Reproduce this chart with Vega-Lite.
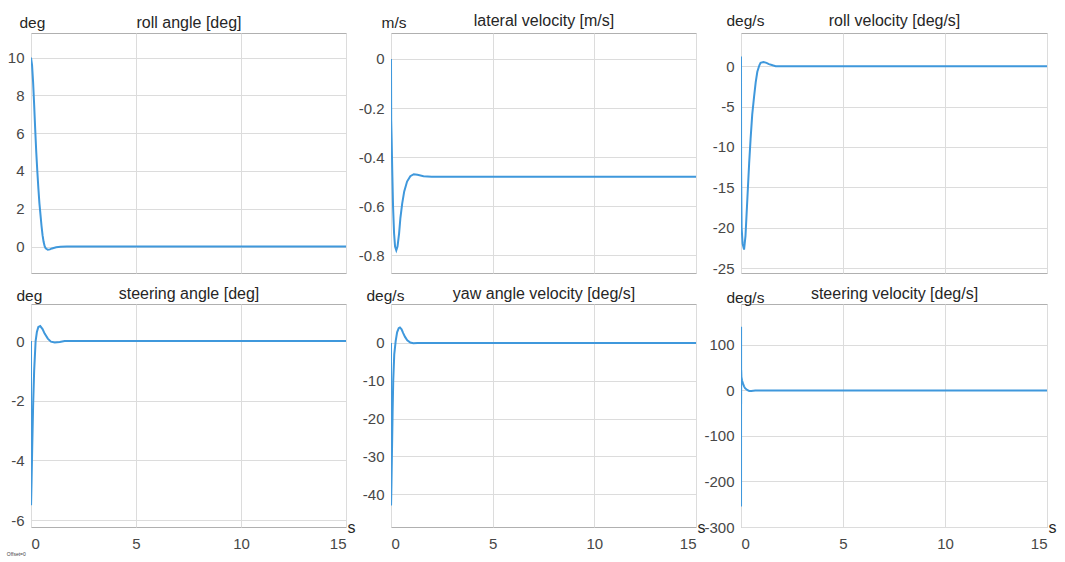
{
  "$schema": "https://vega.github.io/schema/vega-lite/v6.json",
  "background": "white",
  "padding": {"left": 6, "top": 11, "right": 5, "bottom": 5},
  "columns": 3,
  "bounds": "flush",
  "spacing": {"row": 31, "column": 45},
  "title": {"text": "Offset=0", "orient": "bottom", "anchor": "start", "fontSize": 5, "fontWeight": "normal", "color": "#444444", "offset": 0, "font": "Liberation Sans"},
  "config": {
    "view": {"stroke": "#b0b0b0", "strokeWidth": 1},
    "axis": {
      "labelFont": "Liberation Sans", "labelFontSize": 15, "labelColor": "#474747", "labelPadding": 7,
      "labelExpr": "replace(datum.label, '\u2212', '-')",
      "gridColor": "#dcdcdc", "gridWidth": 1,
      "titleFont": "Liberation Sans", "titleFontSize": 16, "titleFontWeight": "normal", "titleColor": "#262626",
      "tickSize": 0, "ticks": false, "domain": false
    }
  },
  "datasets": {
    "d": [
      {"p": "roll", "t": 0, "v": 10}, {"p": "roll", "t": 0.05, "v": 9.6}, {"p": "roll", "t": 0.1, "v": 8.7}, {"p": "roll", "t": 0.15, "v": 7.5}, {"p": "roll", "t": 0.2, "v": 6.2}, {"p": "roll", "t": 0.25, "v": 5}, {"p": "roll", "t": 0.3, "v": 4}, {"p": "roll", "t": 0.35, "v": 3.1}, {"p": "roll", "t": 0.4, "v": 2.3}, {"p": "roll", "t": 0.45, "v": 1.7}, {"p": "roll", "t": 0.5, "v": 1.1}, {"p": "roll", "t": 0.55, "v": 0.6}, {"p": "roll", "t": 0.6, "v": 0.25}, {"p": "roll", "t": 0.65, "v": 0.02}, {"p": "roll", "t": 0.7, "v": -0.1}, {"p": "roll", "t": 0.8, "v": -0.17}, {"p": "roll", "t": 0.9, "v": -0.15}, {"p": "roll", "t": 1.0, "v": -0.1}, {"p": "roll", "t": 1.2, "v": -0.04}, {"p": "roll", "t": 1.4, "v": -0.01}, {"p": "roll", "t": 1.7, "v": 0}, {"p": "roll", "t": 15, "v": 0},

      {"p": "lat", "t": 0, "v": 0}, {"p": "lat", "t": 0.01, "v": -0.25}, {"p": "lat", "t": 0.03, "v": -0.32}, {"p": "lat", "t": 0.06, "v": -0.45}, {"p": "lat", "t": 0.1, "v": -0.6}, {"p": "lat", "t": 0.15, "v": -0.71}, {"p": "lat", "t": 0.2, "v": -0.765}, {"p": "lat", "t": 0.26, "v": -0.78}, {"p": "lat", "t": 0.32, "v": -0.765}, {"p": "lat", "t": 0.4, "v": -0.71}, {"p": "lat", "t": 0.46, "v": -0.65}, {"p": "lat", "t": 0.55, "v": -0.59}, {"p": "lat", "t": 0.65, "v": -0.54}, {"p": "lat", "t": 0.79, "v": -0.5}, {"p": "lat", "t": 0.95, "v": -0.478}, {"p": "lat", "t": 1.12, "v": -0.47}, {"p": "lat", "t": 1.3, "v": -0.472}, {"p": "lat", "t": 1.6, "v": -0.478}, {"p": "lat", "t": 2, "v": -0.48}, {"p": "lat", "t": 15, "v": -0.48},

      {"p": "rollv", "t": 0, "v": 1.2}, {"p": "rollv", "t": 0.005, "v": -12.5}, {"p": "rollv", "t": 0.03, "v": -20}, {"p": "rollv", "t": 0.08, "v": -22}, {"p": "rollv", "t": 0.15, "v": -22.7}, {"p": "rollv", "t": 0.22, "v": -21}, {"p": "rollv", "t": 0.31, "v": -16.5}, {"p": "rollv", "t": 0.4, "v": -12}, {"p": "rollv", "t": 0.47, "v": -9}, {"p": "rollv", "t": 0.55, "v": -6}, {"p": "rollv", "t": 0.64, "v": -3.8}, {"p": "rollv", "t": 0.72, "v": -2}, {"p": "rollv", "t": 0.8, "v": -0.7}, {"p": "rollv", "t": 0.9, "v": 0.1}, {"p": "rollv", "t": 0.96, "v": 0.4}, {"p": "rollv", "t": 1.1, "v": 0.5}, {"p": "rollv", "t": 1.25, "v": 0.4}, {"p": "rollv", "t": 1.37, "v": 0.25}, {"p": "rollv", "t": 1.55, "v": 0.1}, {"p": "rollv", "t": 1.7, "v": 0}, {"p": "rollv", "t": 15, "v": 0},

      {"p": "steer", "t": 0, "v": 0}, {"p": "steer", "t": 0.003, "v": -5.5}, {"p": "steer", "t": 0.03, "v": -4.6}, {"p": "steer", "t": 0.06, "v": -3.5}, {"p": "steer", "t": 0.1, "v": -2.2}, {"p": "steer", "t": 0.15, "v": -1.0}, {"p": "steer", "t": 0.22, "v": 0}, {"p": "steer", "t": 0.28, "v": 0.3}, {"p": "steer", "t": 0.35, "v": 0.47}, {"p": "steer", "t": 0.44, "v": 0.5}, {"p": "steer", "t": 0.55, "v": 0.4}, {"p": "steer", "t": 0.65, "v": 0.25}, {"p": "steer", "t": 0.8, "v": 0.08}, {"p": "steer", "t": 0.95, "v": -0.02}, {"p": "steer", "t": 1.13, "v": -0.05}, {"p": "steer", "t": 1.37, "v": -0.03}, {"p": "steer", "t": 1.6, "v": 0}, {"p": "steer", "t": 15, "v": 0},

      {"p": "yaw", "t": 0, "v": 0}, {"p": "yaw", "t": 0.003, "v": -43}, {"p": "yaw", "t": 0.02, "v": -38}, {"p": "yaw", "t": 0.05, "v": -28}, {"p": "yaw", "t": 0.08, "v": -18}, {"p": "yaw", "t": 0.11, "v": -10}, {"p": "yaw", "t": 0.16, "v": -3}, {"p": "yaw", "t": 0.23, "v": 0.5}, {"p": "yaw", "t": 0.3, "v": 2.8}, {"p": "yaw", "t": 0.38, "v": 3.9}, {"p": "yaw", "t": 0.44, "v": 4.1}, {"p": "yaw", "t": 0.52, "v": 3.6}, {"p": "yaw", "t": 0.6, "v": 2.6}, {"p": "yaw", "t": 0.69, "v": 1.6}, {"p": "yaw", "t": 0.8, "v": 0.7}, {"p": "yaw", "t": 0.95, "v": 0.1}, {"p": "yaw", "t": 1.1, "v": -0.1}, {"p": "yaw", "t": 1.3, "v": 0}, {"p": "yaw", "t": 15, "v": 0},

      {"p": "steerv", "t": 0, "v": 0}, {"p": "steerv", "t": 0.002, "v": -255}, {"p": "steerv", "t": 0.004, "v": 140}, {"p": "steerv", "t": 0.006, "v": -30}, {"p": "steerv", "t": 0.01, "v": 45}, {"p": "steerv", "t": 0.02, "v": 30}, {"p": "steerv", "t": 0.05, "v": 22}, {"p": "steerv", "t": 0.1, "v": 15}, {"p": "steerv", "t": 0.15, "v": 9}, {"p": "steerv", "t": 0.2, "v": 5}, {"p": "steerv", "t": 0.3, "v": 1}, {"p": "steerv", "t": 0.4, "v": -1}, {"p": "steerv", "t": 0.5, "v": -1}, {"p": "steerv", "t": 0.7, "v": 0}, {"p": "steerv", "t": 15, "v": 0}
    ]
  },
  "concat": [
    {
      "width": 315, "height": 240,
      "data": {"name": "d"},
      "transform": [{"filter": "datum.p == 'roll'"}],
      "layer": [
        {"mark": {"type": "line", "color": "#3f98dc", "strokeWidth": 2, "clip": true},
         "encoding": {
           "x": {"field": "t", "type": "quantitative", "scale": {"domain": [0, 15], "nice": false}, "axis": {"orient": "bottom", "values": [0, 5, 10, 15], "labels": false, "grid": true, "title": null}},
           "y": {"field": "v", "type": "quantitative", "scale": {"domain": [-1.4, 11.3], "nice": false, "zero": false}, "axis": {"values": [0, 2, 4, 6, 8, 10], "grid": true, "title": "deg", "titleAngle": 0, "titleX": -12, "titleY": -6, "titleAlign": "left", "titleBaseline": "alphabetic", "titleFontSize": 15.5}}
         }},
        {"mark": {"type": "rule", "opacity": 0},
         "encoding": {
           "x": {"field": "t", "type": "quantitative", "axis": {"orient": "top", "labels": false, "grid": false, "title": "roll angle [deg]", "titleY": -6, "titleBaseline": "alphabetic"}}
         }}
      ]
    },
    {
      "width": 305, "height": 240,
      "data": {"name": "d"},
      "transform": [{"filter": "datum.p == 'lat'"}],
      "layer": [
        {"mark": {"type": "line", "color": "#3f98dc", "strokeWidth": 2, "clip": true},
         "encoding": {
           "x": {"field": "t", "type": "quantitative", "scale": {"domain": [0, 15], "nice": false}, "axis": {"orient": "bottom", "values": [0, 5, 10, 15], "labels": false, "grid": true, "title": null}},
           "y": {"field": "v", "type": "quantitative", "scale": {"domain": [-0.873, 0.106], "nice": false, "zero": false}, "axis": {"values": [0, -0.2, -0.4, -0.6, -0.8], "format": "~g", "grid": true, "title": "m/s", "titleAngle": 0, "titleX": -10, "titleY": -6, "titleAlign": "left", "titleBaseline": "alphabetic", "titleFontSize": 15.5}}
         }},
        {"mark": {"type": "rule", "opacity": 0},
         "encoding": {
           "x": {"field": "t", "type": "quantitative", "axis": {"orient": "top", "labels": false, "grid": false, "title": "lateral velocity [m/s]", "titleY": -8, "titleBaseline": "alphabetic"}}
         }}
      ]
    },
    {
      "width": 306, "height": 240,
      "data": {"name": "d"},
      "transform": [{"filter": "datum.p == 'rollv'"}],
      "layer": [
        {"mark": {"type": "line", "color": "#3f98dc", "strokeWidth": 2, "clip": true},
         "encoding": {
           "x": {"field": "t", "type": "quantitative", "scale": {"domain": [0, 15], "nice": false}, "axis": {"orient": "bottom", "values": [0, 5, 10, 15], "labels": false, "grid": true, "title": null}},
           "y": {"field": "v", "type": "quantitative", "scale": {"domain": [-25.6, 4.1], "nice": false, "zero": false}, "axis": {"values": [0, -5, -10, -15, -20, -25], "grid": true, "title": "deg/s", "titleAngle": 0, "titleX": -15, "titleY": -8, "titleAlign": "left", "titleBaseline": "alphabetic", "titleFontSize": 15.5}}
         }},
        {"mark": {"type": "rule", "opacity": 0},
         "encoding": {
           "x": {"field": "t", "type": "quantitative", "axis": {"orient": "top", "labels": false, "grid": false, "title": "roll velocity [deg/s]", "titleY": -8, "titleBaseline": "alphabetic"}}
         }}
      ]
    },
    {
      "width": 315, "height": 223,
      "data": {"name": "d"},
      "transform": [{"filter": "datum.p == 'steer'"}],
      "layer": [
        {"mark": {"type": "line", "color": "#3f98dc", "strokeWidth": 2, "clip": true},
         "encoding": {
           "x": {"field": "t", "type": "quantitative", "scale": {"domain": [0, 15], "nice": false}, "axis": {"orient": "bottom", "values": [0, 5, 10, 15], "labels": true, "labelPadding": 9, "grid": true, "title": "s", "titleX": 316, "titleY": 5, "titleAlign": "left", "titleBaseline": "alphabetic"}},
           "y": {"field": "v", "type": "quantitative", "scale": {"domain": [-6.23, 1.24], "nice": false, "zero": false}, "axis": {"values": [0, -2, -4, -6], "grid": true, "title": "deg", "titleAngle": 0, "titleX": -15, "titleY": -4, "titleAlign": "left", "titleBaseline": "alphabetic", "titleFontSize": 15.5}}
         }},
        {"mark": {"type": "rule", "opacity": 0},
         "encoding": {
           "x": {"field": "t", "type": "quantitative", "axis": {"orient": "top", "labels": false, "grid": false, "title": "steering angle [deg]", "titleY": -6, "titleBaseline": "alphabetic"}}
         }}
      ]
    },
    {
      "width": 305, "height": 223,
      "data": {"name": "d"},
      "transform": [{"filter": "datum.p == 'yaw'"}],
      "layer": [
        {"mark": {"type": "line", "color": "#3f98dc", "strokeWidth": 2, "clip": true},
         "encoding": {
           "x": {"field": "t", "type": "quantitative", "scale": {"domain": [0, 15], "nice": false}, "axis": {"orient": "bottom", "values": [0, 5, 10, 15], "labels": true, "labelPadding": 9, "grid": true, "title": "s", "titleX": 306, "titleY": 5, "titleAlign": "left", "titleBaseline": "alphabetic"}},
           "y": {"field": "v", "type": "quantitative", "scale": {"domain": [-48.7, 10.3], "nice": false, "zero": false}, "axis": {"values": [0, -10, -20, -30, -40], "grid": true, "title": "deg/s", "titleAngle": 0, "titleX": -25, "titleY": -4, "titleAlign": "left", "titleBaseline": "alphabetic", "titleFontSize": 15.5}}
         }},
        {"mark": {"type": "rule", "opacity": 0},
         "encoding": {
           "x": {"field": "t", "type": "quantitative", "axis": {"orient": "top", "labels": false, "grid": false, "title": "yaw angle velocity [deg/s]", "titleY": -6, "titleBaseline": "alphabetic"}}
         }}
      ]
    },
    {
      "width": 306, "height": 223,
      "data": {"name": "d"},
      "transform": [{"filter": "datum.p == 'steerv'"}],
      "layer": [
        {"mark": {"type": "line", "color": "#3f98dc", "strokeWidth": 2, "clip": true},
         "encoding": {
           "x": {"field": "t", "type": "quantitative", "scale": {"domain": [0, 15], "nice": false}, "axis": {"orient": "bottom", "values": [0, 5, 10, 15], "labels": true, "labelPadding": 9, "grid": true, "title": "s", "titleX": 307, "titleY": 5, "titleAlign": "left", "titleBaseline": "alphabetic"}},
           "y": {"field": "v", "type": "quantitative", "scale": {"domain": [-300, 190], "nice": false, "zero": false}, "axis": {"values": [100, 0, -100, -200, -300], "grid": true, "title": "deg/s", "titleAngle": 0, "titleX": -15, "titleY": -2, "titleAlign": "left", "titleBaseline": "alphabetic", "titleFontSize": 15.5}}
         }},
        {"mark": {"type": "rule", "opacity": 0},
         "encoding": {
           "x": {"field": "t", "type": "quantitative", "axis": {"orient": "top", "labels": false, "grid": false, "title": "steering velocity [deg/s]", "titleY": -6, "titleBaseline": "alphabetic"}}
         }}
      ]
    }
  ]
}
